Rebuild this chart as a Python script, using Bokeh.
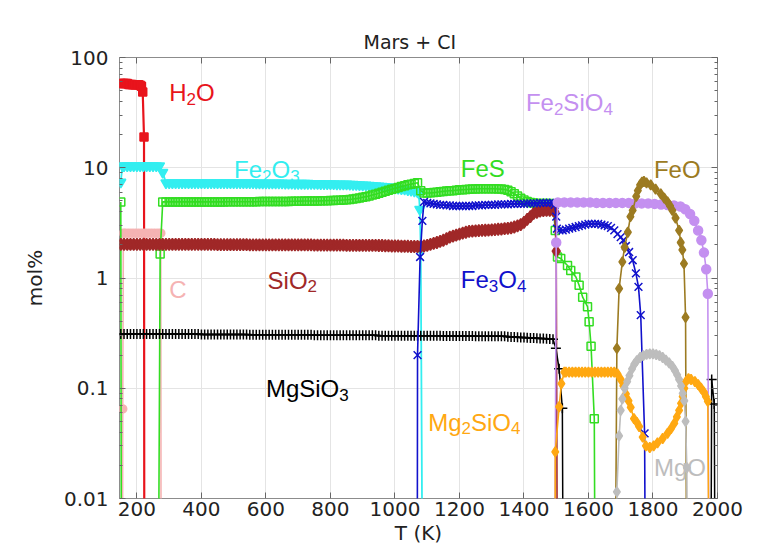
from bokeh.plotting import figure
from bokeh.models import (ColumnDataSource, FixedTicker, LinearAxis, LogAxis,
                          CustomJSTickFormatter, Range1d, Title)
from bokeh.core.properties import value
from bokeh.embed import file_html
from bokeh.resources import INLINE

# Equilibrium condensate composition, Mars + CI chondrite mix
# temperature in K, abundance in mol%; GONE marks a phase that is absent
GONE = 0.0005

t_h2o = [150, 155, 160, 165, 170, 175, 180, 185, 190, 195, 200, 205, 210, 214, 218, 222, 223]
v_h2o = [58, 58, 58, 58, 58, 57, 57, 57, 56.5, 56.5, 56.5, 56.5, 56, 55, 48.7, 19, GONE]

t_c = [155, 156, 158, 165, 175, 185, 195, 205, 215, 225, 235, 245, 255, 265, 274, 275]
v_c = [GONE, 0.065, 2.55, 2.55, 2.55, 2.55, 2.55, 2.55, 2.55, 2.55, 2.55, 2.55, 2.55, 2.55, 2.55, GONE]

t_fe2o3 = [150, 155] + list(range(160, 280, 10)) + [280, 290] + list(range(300, 1080, 10)) + [1074, 1077, 1080, 1086]
v_fe2o3 = [7.4, 10.4,
           10.4, 10.4, 10.4, 10.4, 10.4, 10.4, 10.4, 10.4, 10.4, 10.4, 10.4, 10.4,
           9.1, 7.3,
           7.3, 7.3, 7.3, 7.3, 7.3, 7.3, 7.3, 7.3, 7.3, 7.3,
           7.3, 7.3, 7.3, 7.3, 7.3, 7.3, 7.3, 7.3, 7.3, 7.3,
           7.3, 7.3, 7.3, 7.3, 7.3, 7.28, 7.28, 7.27, 7.26, 7.25,
           7.25, 7.25, 7.25, 7.25, 7.25, 7.24, 7.23, 7.22, 7.21, 7.2,
           7.2, 7.2, 7.2, 7.2, 7.19, 7.18, 7.17, 7.16, 7.15, 7.15,
           7.14, 7.13, 7.12, 7.11, 7.1, 7.09, 7.07, 7.05, 7.03, 7.0,
           6.97, 6.95, 6.92, 6.9, 6.85, 6.8, 6.77, 6.75, 6.7, 6.65,
           6.55, 6.5, 6.45, 6.4, 6.3, 6.25, 6.15, 6.05,
           5.9, 4.2, 1.8, GONE]

t_fes = [150, 152, 266, 272] + list(range(280, 1080, 10)) + [1080] + list(range(1090, 1500, 10)) + \
        [1497, 1504, 1514, 1535, 1545, 1561, 1571, 1582, 1597, 1602, 1608, 1618, 1621]
v_fes = [4.9, GONE, GONE, 1.65,
         4.9, 4.9, 4.9, 4.9, 4.9, 4.9, 4.9, 4.9, 4.9, 4.9,
         4.9, 4.9, 4.9, 4.9, 4.9, 4.9, 4.9, 4.9, 4.9, 4.9,
         4.92, 4.92, 4.92, 4.92, 4.92, 4.92, 4.92, 4.92, 4.92, 4.92,
         4.94, 4.94, 4.94, 4.94, 4.94, 4.94, 4.94, 4.94, 4.94, 4.94,
         4.97, 4.97, 4.98, 4.98, 4.99, 4.99, 5.0, 5.0, 5.0, 5.01,
         5.02, 5.03, 5.04, 5.05, 5.06, 5.08, 5.1, 5.12, 5.15, 5.2,
         5.25, 5.32, 5.4, 5.47, 5.55, 5.65, 5.75, 5.87, 6.0, 6.12,
         6.25, 6.37, 6.5, 6.62, 6.75, 6.87, 7.0, 7.1, 7.2, 7.3,
         6.2,
         5.9, 5.9, 5.92, 5.95, 6.0, 6.05, 6.1, 6.15, 6.18, 6.2,
         6.25, 6.3, 6.32, 6.35, 6.38, 6.4, 6.42, 6.45, 6.45, 6.45,
         6.45, 6.45, 6.45, 6.42, 6.4, 6.35, 6.25, 6.05, 5.8, 5.55,
         5.3, 5.1, 4.95, 4.85, 4.8, 4.75, 4.75, 4.75, 4.75, 4.75,
         4.7,
         2.7, 1.55, 1.5, 1.3, 1.17, 1.02, 0.86, 0.67, 0.55, 0.40, 0.24, 0.053, GONE]

t_sio2 = list(range(150, 1500, 10)) + [1495, 1500, 1504]
v_sio2 = [2.02, 2.02, 2.02, 2.02, 2.02, 2.02, 2.02, 2.02, 2.02, 2.02,
          2.02, 2.02, 2.02, 2.02, 2.02, 2.02, 2.02, 2.02, 2.02, 2.02,
          2.02, 2.02, 2.02, 2.02, 2.02, 2.02, 2.02, 2.02, 2.02, 2.02,
          2.01, 2.01, 2.01, 2.01, 2.01, 2.01, 2.01, 2.01, 2.01, 2.01,
          2.0, 2.0, 2.0, 2.0, 2.0, 2.0, 2.0, 2.0, 2.0, 2.0,
          2.0, 2.0, 2.0, 2.0, 2.0, 2.0, 2.0, 2.0, 2.0, 2.0,
          1.99, 1.99, 1.99, 1.99, 1.99, 1.99, 1.99, 1.99, 1.99, 1.99,
          1.98, 1.98, 1.98, 1.98, 1.98, 1.98, 1.98, 1.98, 1.98, 1.98,
          1.97, 1.97, 1.96, 1.96, 1.95, 1.95, 1.95, 1.94, 1.94, 1.94,
          1.93, 1.93, 1.93, 1.93, 1.95, 1.98, 2.02, 2.06, 2.1, 2.15,
          2.2, 2.27, 2.35, 2.4, 2.45, 2.5, 2.55, 2.6, 2.65, 2.66,
          2.68, 2.69, 2.7, 2.71, 2.72, 2.73, 2.75, 2.77, 2.78, 2.8,
          2.82, 2.85, 2.9, 2.97, 3.05, 3.2, 3.4, 3.6, 3.85, 3.95,
          4.05, 4.08, 4.1, 4.1, 4.1,
          4.0, 1.75, GONE]

t_mgsio3 = list(range(150, 1500, 10)) + [1499, 1509, 1519, 1522, 1979, 1982, 1990, 1993]
v_mgsio3 = [0.31, 0.31, 0.31, 0.31, 0.31, 0.31, 0.31, 0.31, 0.31, 0.31,
            0.31, 0.31, 0.31, 0.31, 0.31, 0.31, 0.31, 0.31, 0.31, 0.31,
            0.31, 0.31, 0.31, 0.31, 0.31, 0.308, 0.308, 0.308, 0.308, 0.308,
            0.307, 0.307, 0.307, 0.307, 0.307, 0.307, 0.307, 0.307, 0.307, 0.307,
            0.305, 0.305, 0.305, 0.305, 0.305, 0.305, 0.305, 0.305, 0.305, 0.305,
            0.305, 0.305, 0.305, 0.305, 0.305, 0.305, 0.305, 0.305, 0.305, 0.305,
            0.303, 0.303, 0.303, 0.303, 0.303, 0.303, 0.303, 0.303, 0.303, 0.303,
            0.302, 0.302, 0.302, 0.302, 0.302, 0.302, 0.302, 0.302, 0.302, 0.302,
            0.3, 0.3, 0.3, 0.3, 0.3, 0.3, 0.3, 0.3, 0.3, 0.3,
            0.3, 0.3, 0.3, 0.3, 0.3, 0.3, 0.3, 0.3, 0.3, 0.3,
            0.298, 0.298, 0.298, 0.298, 0.298, 0.298, 0.298, 0.298, 0.298, 0.298,
            0.296, 0.296, 0.296, 0.296, 0.296, 0.296, 0.296, 0.296, 0.296, 0.296,
            0.293, 0.292, 0.291, 0.29, 0.289, 0.288, 0.287, 0.286, 0.285, 0.284,
            0.283, 0.282, 0.281, 0.28, 0.278,
            0.23, 0.15, 0.066, GONE, GONE, 0.12, 0.072, GONE]

t_fe3o4 = [1069, 1070, 1078, 1085, 1090] + list(range(1100, 1500, 10)) + [1495, 1500, 1502] + \
          list(range(1510, 1700, 10)) + [1700, 1708, 1716, 1726, 1737, 1747, 1755, 1762, 1774, 1777]
v_fe3o4 = [GONE, 0.2, 1.55, 3.3, 4.9,
           4.8, 4.75, 4.7, 4.65, 4.6, 4.6, 4.55, 4.55, 4.5, 4.5,
           4.5, 4.5, 4.5, 4.5, 4.5, 4.55, 4.55, 4.55, 4.6, 4.6,
           4.6, 4.6, 4.65, 4.65, 4.65, 4.65, 4.7, 4.7, 4.7, 4.7,
           4.7, 4.75, 4.75, 4.75, 4.75, 4.8, 4.8, 4.8, 4.8, 4.8,
           4.6, 3.6, 2.8,
           2.7, 2.7, 2.75, 2.8, 2.85, 2.9, 2.95, 3.0, 3.05, 3.1,
           3.1, 3.1, 3.1, 3.05, 3.0, 2.95, 2.85, 2.7, 2.5,
           2.35, 2.2, 1.95, 1.72, 1.45, 1.1, 0.83, 0.46, 0.039, GONE]

t_fe2sio4 = [1495, 1500] + list(range(1505, 1900, 20)) + [1900, 1915, 1928, 1940, 1950, 1958, 1965, 1970, 1974]
v_fe2sio4 = [GONE, 2.1,
             4.85, 4.85, 4.85, 4.85, 4.85, 4.85, 4.8, 4.8, 4.8, 4.8,
             4.8, 4.8, 4.75, 4.75, 4.75, 4.7, 4.65, 4.6, 4.55, 4.45,
             4.2, 3.8, 3.3, 2.7, 2.2, 1.7, 1.2, 0.72, GONE]

t_feo = [1682, 1688, 1695, 1705, 1712, 1722, 1730, 1737, 1748, 1753, 1760, 1766, 1772, 1780,
         1793, 1808, 1824, 1835, 1845, 1853, 1860, 1870, 1881, 1886, 1891, 1896, 1901, 1905]
v_feo = [GONE, 0.23, 0.8, 1.4, 1.9, 2.6, 3.6, 4.1, 5.5, 6.2, 7.0, 7.4, 7.5, 7.3,
         7.0, 6.4, 5.8, 5.3, 4.9, 4.5, 4.1, 3.5, 2.7, 2.1, 1.8, 1.35, 0.44, GONE]

t_mg2sio4 = [1496, 1497, 1509, 1516, 1525] + list(range(1530, 1690, 10)) + \
            [1690, 1700, 1708, 1716, 1724, 1731, 1741, 1750, 1757, 1768, 1778, 1790, 1802, 1814,
             1830, 1845, 1856, 1866, 1874, 1881, 1887, 1892, 1897, 1902, 1910, 1918, 1930, 1940,
             1949, 1958, 1964, 1970, 1975]
v_mg2sio4 = [GONE, 0.0265, 0.068, 0.11, 0.14,
             0.14, 0.14, 0.14, 0.14, 0.14, 0.14, 0.14, 0.14,
             0.14, 0.14, 0.14, 0.14, 0.14, 0.14, 0.14, 0.14,
             0.135, 0.12, 0.105, 0.089, 0.077, 0.067, 0.053, 0.049, 0.045, 0.036, 0.030, 0.029, 0.030, 0.032,
             0.035, 0.039, 0.043, 0.048, 0.055, 0.063, 0.073, 0.084, 0.1, 0.115, 0.122, 0.12, 0.115, 0.108,
             0.1, 0.092, 0.084, 0.076, GONE]

t_mgo = [1686, 1688, 1695, 1700, 1705, 1712, 1720, 1727, 1735, 1742, 1750, 1760, 1770, 1780, 1790,
         1800, 1810, 1820, 1830, 1840, 1850, 1860, 1868, 1875, 1881, 1887, 1892, 1897, 1901, 1905, 1907]
v_mgo = [GONE, 0.0115, 0.037, 0.063, 0.08, 0.1, 0.115, 0.13, 0.15, 0.165, 0.178, 0.19, 0.198, 0.203, 0.205,
         0.205, 0.202, 0.198, 0.19, 0.18, 0.17, 0.158, 0.145, 0.132, 0.12, 0.105, 0.09, 0.077, 0.05, 0.019, GONE]

x_ticks = [200, 400, 600, 800, 1000, 1200, 1400, 1600, 1800, 2000]
y_ticks = [0.01, 0.1, 1, 10, 100]

C_H2O, C_C, C_FE2O3, C_FES = "#e8141c", "#f5b3b3", "#33eef0", "#33dd22"
C_SIO2, C_MGSIO3, C_FE3O4, C_FE2SIO4 = "#a02828", "#000000", "#1111cc", "#c490f0"
C_FEO, C_MG2SIO4, C_MGO = "#9c7b22", "#ffa812", "#bdbdbd"

# name, T, values, colour, marker, size, filled, line width
series = [
    ("H2O", t_h2o, v_h2o, C_H2O, "square", 8, True, 2.2),
    ("C", t_c, v_c, C_C, "circle", 8, True, 1.6),
    ("Fe2O3", t_fe2o3, v_fe2o3, C_FE2O3, "inverted_triangle", 10, True, 1.8),
    ("FeS", t_fes, v_fes, C_FES, "square", 8, False, 1.6),
    ("SiO2", t_sio2, v_sio2, C_SIO2, "diamond", 12, True, 1.6),
    ("MgSiO3", t_mgsio3, v_mgsio3, C_MGSIO3, "cross", 10, False, 1.5),
    ("Fe3O4", t_fe3o4, v_fe3o4, C_FE3O4, "x", 11, False, 1.6),
    ("Fe2SiO4", t_fe2sio4, v_fe2sio4, C_FE2SIO4, "circle", 9, True, 1.6),
    ("FeO", t_feo, v_feo, C_FEO, "diamond", 10, True, 1.6),
    ("Mg2SiO4", t_mg2sio4, v_mg2sio4, C_MG2SIO4, "diamond", 10, True, 1.6),
    ("MgO", t_mgo, v_mgo, C_MGO, "diamond", 10, True, 1.6),
]

p = figure(width=769, height=547, x_range=Range1d(146, 2000), y_range=Range1d(0.01, 100),
           y_axis_type="log", output_backend="svg", toolbar_location=None,
           min_border_left=119, min_border_right=52, min_border_top=57, min_border_bottom=49)

for name, t, v, col, marker, size, filled, lw in series:
    assert len(t) == len(v), name
    src = ColumnDataSource(dict(t=t, v=v))
    p.line("t", "v", source=src, line_color=col, line_width=lw)
    p.scatter("t", "v", source=src, marker=marker, size=size,
              line_color=col, line_width=1.5,
              fill_color=col if filled else None)

# species labels with subscripts, laid out from Arial-metric advance widths
ADV = {'H': 0.722, 'O': 0.778, 'F': 0.611, 'e': 0.556, 'S': 0.667, 'i': 0.222,
       'C': 0.722, 'M': 0.833, 'g': 0.556, '2': 0.556, '3': 0.556, '4': 0.556}
BIG, SMALL, DROP = 24, 17, 6
labels = [
    (300, 47.7, "H_2O", C_H2O),
    (501, 9.6, "Fe_2O_3", C_FE2O3),
    (1204, 9.8, "FeS", C_FES),
    (1406, 38.7, "Fe_2SiO_4", C_FE2SIO4),
    (1803, 9.6, "FeO", C_FEO),
    (605, 0.955, "SiO_2", C_SIO2),
    (300, 0.785, "C", C_C),
    (1204, 0.967, "Fe_3O_4", C_FE3O4),
    (600, 0.099, "MgSiO_3", C_MGSIO3),
    (1103, 0.0493, "Mg_2SiO_4", C_MG2SIO4),
    (1803, 0.0193, "MgO", C_MGO),
]
rows = dict(x=[], y=[], text=[], dx=[], dy=[], fs=[], color=[])
for lx, ly, spec, col in labels:
    dx, sub = 0.0, False
    for ch in spec:
        if ch == "_":
            sub = True
            continue
        fs = SMALL if sub else BIG
        rows["x"].append(lx); rows["y"].append(ly); rows["text"].append(ch)
        rows["dx"].append(dx); rows["dy"].append(DROP if sub else 0)
        rows["fs"].append(f"{fs}px"); rows["color"].append(col)
        dx += ADV[ch] * fs
        sub = False
p.text(x="x", y="y", text="text", x_offset="dx", y_offset="dy", text_font_size="fs",
       text_color="color", text_font=value("Liberation Sans"), text_baseline="alphabetic",
       text_align="left", source=ColumnDataSource(rows))

minor_y = [m * d for d in (0.01, 0.1, 1, 10) for m in range(2, 10)]
blank = CustomJSTickFormatter(code="return '';")

xa = p.xaxis[0]
xa.ticker = FixedTicker(ticks=x_ticks)
ya = p.yaxis[0]
ya.ticker = FixedTicker(ticks=y_ticks, minor_ticks=minor_y)
ya.formatter = CustomJSTickFormatter(code="return tick.toString();")
ya.axis_label = "mol%"

top = LinearAxis(ticker=FixedTicker(ticks=x_ticks), formatter=blank)
right = LogAxis(ticker=FixedTicker(ticks=y_ticks, minor_ticks=minor_y), formatter=blank)
p.add_layout(top, "above")
p.add_layout(right, "right")

for ax in (xa, ya, top, right):
    ax.axis_line_color = None
    ax.major_tick_in = 6
    ax.major_tick_out = 0
    ax.minor_tick_in = 3
    ax.minor_tick_out = 0
    ax.major_tick_line_color = "#666666"
    ax.minor_tick_line_color = "#666666"
    ax.major_label_text_font = "DejaVu Sans"
    ax.major_label_text_font_size = "20px"
    ax.major_label_text_color = "#222222"
    ax.axis_label_text_font = "DejaVu Sans"
    ax.axis_label_text_font_size = "20px"
    ax.axis_label_text_font_style = "normal"
    ax.axis_label_text_color = "#222222"
xa.minor_tick_in = 0
top.minor_tick_in = 0
xa.major_label_standoff = 3
ya.major_label_standoff = 11
ya.axis_label_standoff = 14

# x-axis caption placed as a title below the tick labels
xlabel = Title(text="T (K)", align="center", standoff=0,
               text_font="DejaVu Sans", text_font_size="20px",
               text_font_style="normal", text_color="#222222")
p.add_layout(xlabel, "below")

p.xgrid.grid_line_color = "#e4e4e4"
p.ygrid.grid_line_color = "#e4e4e4"
p.outline_line_color = "#8c8c8c"
p.outline_line_width = 1

p.title.text = "Mars + CI"
p.title.align = "left"
p.title.offset = 244
p.title.text_font = "DejaVu Sans"
p.title.text_font_size = "19px"
p.title.text_font_style = "normal"
p.title.text_color = "#222222"

p.background_fill_color = "white"
p.border_fill_color = "white"

open("out.html", "w").write(file_html(p, INLINE))
